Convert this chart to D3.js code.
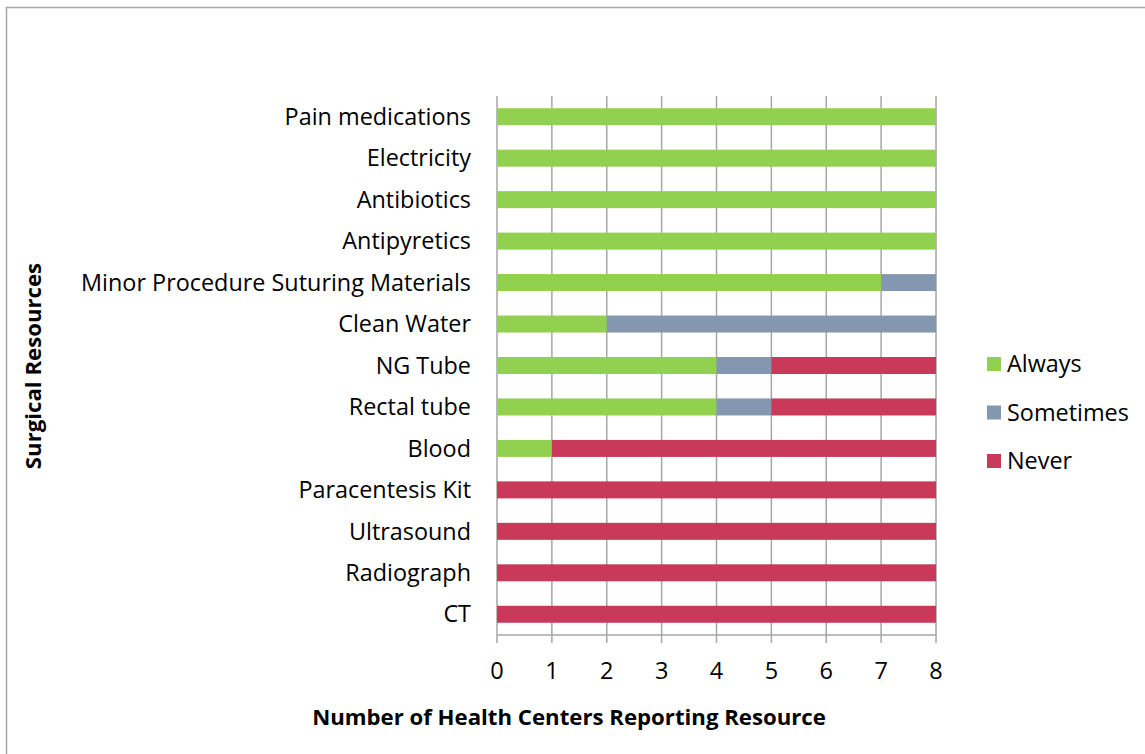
<!DOCTYPE html>
<html>
<head>
<meta charset="utf-8">
<script src="https://cdn.jsdelivr.net/npm/d3@7"></script>
<style>
  body { margin: 0; background: #fff; }
  svg { font-family: 'Open Sans', sans-serif; }
</style>
</head>
<body>
<svg width="1145" height="754"></svg>
<script>
// categories, top to bottom
const resources = ['Pain medications', 'Electricity', 'Antibiotics', 'Antipyretics',
  'Minor Procedure Suturing Materials', 'Clean Water', 'NG Tube', 'Rectal tube', 'Blood',
  'Paracentesis Kit', 'Ultrasound', 'Radiograph', 'CT']
const always = [8, 8, 8, 8, 7, 2, 4, 4, 1, 0, 0, 0, 0]
const sometimes = [0, 0, 0, 0, 1, 6, 1, 1, 0, 0, 0, 0, 0]
const never = [0, 0, 0, 0, 0, 0, 3, 3, 7, 8, 8, 8, 8]
const xTicks = [0, 1, 2, 3, 4, 5, 6, 7, 8]
const keys = ['Always', 'Sometimes', 'Never']

const data = resources.map(function (r, i) {
  return { name: r, Always: always[i], Sometimes: sometimes[i], Never: never[i] }
})

const svg = d3.select('svg')
const margin = { top: 96, left: 497, right: 209, bottom: 119 }
const width = 1145 - margin.left - margin.right
const height = 754 - margin.top - margin.bottom

// outer chart frame
svg.append('rect')
  .attr('x', 6.5).attr('y', 7.5)
  .attr('width', 1160).attr('height', 770)
  .attr('fill', 'none').attr('stroke', '#a6a6a6').attr('stroke-width', 1.5)

const g = svg.append('g').attr('transform', 'translate(' + margin.left + ',' + margin.top + ')')

const x = d3.scaleLinear().domain([0, 8]).range([0, width])
const y = d3.scaleBand().domain(resources).range([0, height]).paddingInner(0.59).paddingOuter(0.295)
const z = d3.scaleOrdinal().domain(keys).range(['#92d050', '#8497b0', '#c8395a'])

// vertical gridlines
g.append('g')
  .selectAll('line')
  .data(xTicks)
  .enter().append('line')
  .attr('x1', d => x(d)).attr('x2', d => x(d))
  .attr('y1', 0).attr('y2', height + 8)
  .attr('stroke', '#a6a6a6').attr('stroke-width', 1.5)

// bottom axis line
g.append('line')
  .attr('x1', 0).attr('x2', width)
  .attr('y1', height).attr('y2', height)
  .attr('stroke', '#a6a6a6').attr('stroke-width', 1.5)

// bars
g.append('g')
  .selectAll('g')
  .data(d3.stack().keys(keys)(data))
  .enter().append('g')
  .attr('fill', d => z(d.key))
  .selectAll('rect')
  .data(d => d)
  .enter().append('rect')
  .attr('x', d => x(d[0]))
  .attr('y', d => y(d.data.name))
  .attr('width', d => x(d[1]) - x(d[0]))
  .attr('height', y.bandwidth())

// x tick labels
g.append('g')
  .selectAll('text')
  .data(xTicks)
  .enter().append('text')
  .attr('x', d => x(d))
  .attr('y', height + 44)
  .attr('text-anchor', 'middle')
  .attr('font-size', 23.5)
  .attr('fill', '#000')
  .text(d => d)

// category labels
g.append('g')
  .selectAll('text')
  .data(resources)
  .enter().append('text')
  .attr('x', -26)
  .attr('y', d => y(d) + y.bandwidth() / 2)
  .attr('dy', '0.35em')
  .attr('text-anchor', 'end')
  .attr('font-size', 23.4)
  .attr('fill', '#000')
  .text(d => d)

// axis titles
svg.append('text')
  .attr('x', 569).attr('y', 725)
  .attr('text-anchor', 'middle')
  .attr('font-size', 22.2).attr('font-weight', 'bold')
  .text('Number of Health Centers Reporting Resource')

svg.append('text')
  .attr('transform', 'translate(41,366) rotate(-90)')
  .attr('text-anchor', 'middle')
  .attr('font-size', 22.2).attr('font-weight', 'bold')
  .text('Surgical Resources')

// legend
const legend = svg.append('g')
  .selectAll('g')
  .data(keys)
  .enter().append('g')
  .attr('transform', (d, i) => 'translate(987,' + (364 + i * 48.5) + ')')
legend.append('rect')
  .attr('x', 0).attr('y', -7)
  .attr('width', 14).attr('height', 14)
  .attr('fill', d => z(d))
legend.append('text')
  .attr('x', 20).attr('y', 0).attr('dy', '0.35em')
  .attr('font-size', 23.4)
  .text(d => d)
</script>
</body>
</html>
